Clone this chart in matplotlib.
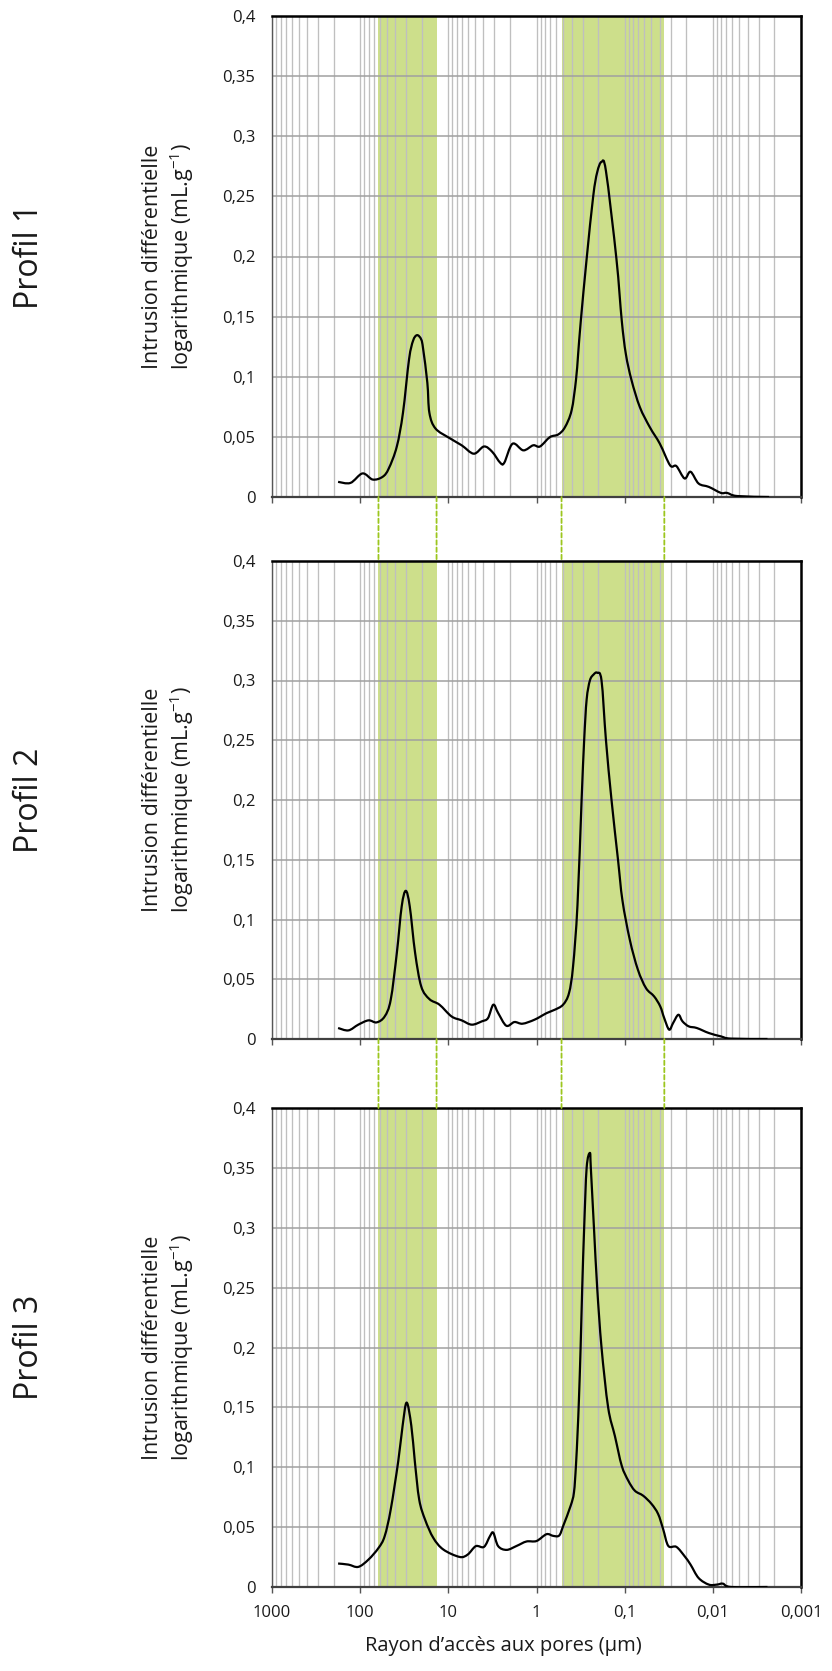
import numpy as np
import matplotlib.pyplot as plt
from matplotlib.ticker import LogLocator, NullFormatter
from matplotlib.patches import ConnectionPatch, PathPatch
from matplotlib.path import Path

plt.rcParams['font.family'] = ['Open Sans', 'DejaVu Sans']
plt.rcParams['mathtext.default'] = 'regular'

# pore radius (µm) and log differential intrusion (mL/g) for each profile
r1 = [178, 129, 94, 72, 55.6, 47.4, 38.4, 32.7, 27.9, 25.1, 22.6, 20.3, 19.3, 17.3, 16.4, 14.0,
      9.7, 7.06, 5.14, 3.94, 3.19, 2.58, 2.32, 1.87, 1.41, 1.09, 0.914, 0.705, 0.567, 0.476,
      0.40, 0.357, 0.337, 0.314, 0.27, 0.2275, 0.205, 0.183, 0.163, 0.124, 0.108, 0.097,
      0.0835, 0.0673, 0.0518, 0.0399, 0.0305, 0.0259, 0.0209, 0.0179, 0.0145, 0.0111, 0.0081,
      0.0069, 0.0053, 0.0023]
v1 = [0.0126, 0.0117, 0.0196, 0.0145, 0.0168, 0.0237, 0.042, 0.070, 0.1145, 0.130, 0.1346, 0.131,
      0.123, 0.095, 0.070, 0.057, 0.049, 0.043, 0.036, 0.042, 0.0377, 0.0285, 0.0285, 0.0443,
      0.0388, 0.043, 0.042, 0.0498, 0.052, 0.058, 0.072, 0.097, 0.119, 0.147, 0.198, 0.250,
      0.270, 0.2787, 0.271, 0.198, 0.147, 0.119, 0.097, 0.0748, 0.058, 0.0443, 0.0263,
      0.0257, 0.0154, 0.021, 0.0112, 0.0084, 0.0034, 0.0034, 0.0008, 0.0]

r2 = [178, 136, 105, 80.5, 65.1, 52.7, 45.0, 38.4, 33.8, 30.4, 27.4, 23.8, 20.3, 16.4, 12.6,
      9.2, 7.06, 5.42, 4.16, 3.55, 3.09, 2.72, 2.20, 1.78, 1.44, 1.05, 0.766, 0.62, 0.50,
      0.428, 0.385, 0.343, 0.308, 0.288, 0.27, 0.248, 0.225, 0.205, 0.183, 0.163,
      0.141, 0.119, 0.106, 0.0874, 0.0708, 0.0573, 0.0464, 0.0395, 0.0356, 0.0313, 0.0282,
      0.0246, 0.0221, 0.0188, 0.0152, 0.0111, 0.0081, 0.0062, 0.0024]
v2 = [0.0092, 0.0072, 0.012, 0.0156, 0.0139, 0.0189, 0.0329, 0.0719, 0.111, 0.124, 0.111,
      0.0719, 0.044, 0.0334, 0.0287, 0.0189, 0.0156, 0.012, 0.0148, 0.0175, 0.0287, 0.0217,
      0.0111, 0.0142, 0.0128, 0.0162, 0.0217, 0.0245, 0.0287, 0.0384, 0.0607, 0.112,
      0.2, 0.25, 0.284, 0.30, 0.305, 0.3065, 0.30, 0.25, 0.2, 0.15, 0.116, 0.083, 0.058,
      0.0426, 0.0357, 0.0273, 0.0175, 0.0078, 0.0134, 0.0203, 0.0148, 0.0106, 0.0092, 0.005,
      0.0022, 0.0003, 0.0]

r3 = [178, 136, 105, 80.5, 61.8, 52.7, 45.0, 37, 33.0, 29.7, 26.3, 24, 21.4, 18.3, 14.8, 11.4,
      7.45, 6.03, 4.88, 3.94, 3.37, 3.09, 2.72, 2.18, 1.68, 1.30, 1.0, 0.77, 0.647, 0.553,
      0.498, 0.41, 0.376, 0.357, 0.342, 0.330, 0.316, 0.303, 0.288, 0.270, 0.248, 0.242,
      0.223, 0.205, 0.183, 0.154, 0.129, 0.108, 0.091, 0.0766, 0.0616, 0.0495, 0.0417,
      0.0366, 0.032, 0.0259, 0.0209, 0.0179, 0.0145, 0.0111, 0.009, 0.0077, 0.0062, 0.0024]
v3 = [0.0196, 0.0187, 0.0168, 0.0229, 0.0327, 0.0425, 0.0648, 0.105, 0.1347, 0.154, 0.1347,
      0.105, 0.073, 0.056, 0.041, 0.0313, 0.0251, 0.0271, 0.0341, 0.0335, 0.0425, 0.0453,
      0.0341, 0.031, 0.0343, 0.038, 0.0384, 0.0441, 0.0427, 0.043, 0.051, 0.0678, 0.079,
      0.1013, 0.129, 0.157, 0.2, 0.25, 0.3, 0.35, 0.3625, 0.35, 0.3, 0.25, 0.2, 0.15, 0.126,
      0.1013, 0.0888, 0.0804, 0.0762, 0.0693, 0.0609, 0.0483, 0.0343, 0.0335, 0.0257, 0.0187,
      0.0075, 0.002, 0.002, 0.0028, 0.0, 0.0]

profiles = ["Profil 1", "Profil 2", "Profil 3"]
radii = [r1, r2, r3]
values = [v1, v2, v3]

band_macro = [62, 13.6]
band_micro = [0.52, 0.0355]

y_ticks = [0, 0.05, 0.1, 0.15, 0.2, 0.25, 0.3, 0.35, 0.4]
y_labels = ["0", "0,05", "0,1", "0,15", "0,2", "0,25", "0,3", "0,35", "0,4"]
x_ticks = [1000, 100, 10, 1, 0.1, 0.01, 0.001]
x_labels = ["1000", "100", "10", "1", "0,1", "0,01", "0,001"]

ylabel = "Intrusion différentielle\nlogarithmique (mL.g$^{-1}$)"
xlabel = "Rayon d’accès aux pores (µm)"


def smooth_path(r, v):
    # Excel-style smoothed line: cubic Bezier through the points (in log-x space)
    lx = np.log10(r)
    pts = np.column_stack([lx, v])
    p = np.vstack([pts[0], pts, pts[-1]])
    verts = [pts[0]]
    codes = [Path.MOVETO]
    for i in range(1, len(p) - 2):
        c1 = p[i] + (p[i + 1] - p[i - 1]) / 6
        c2 = p[i + 1] - (p[i + 2] - p[i]) / 6
        verts += [c1, c2, p[i + 1]]
        codes += [Path.CURVE4] * 3
    verts = np.array(verts)
    verts[:, 0] = 10 ** verts[:, 0]
    return Path(verts, codes)


W, H = 832, 1671
fig = plt.figure(figsize=(W / 100, H / 100), dpi=100)
boxes = [(16, 497), (561, 1039), (1108, 1587)]
green = "#cddf8b"

axes = []
for i, (top, bot) in enumerate(boxes):
    ax = fig.add_axes([272 / W, 1 - bot / H, 529 / W, (bot - top) / H])
    ax.set_xscale("log")
    ax.set_xlim(1000, 0.001)
    ax.set_ylim(0, 0.4)
    ax.axvspan(band_macro[0], band_macro[1], color=green, lw=0, zorder=1)
    ax.axvspan(band_micro[0], band_micro[1], color=green, lw=0, zorder=1)
    ax.add_patch(PathPatch(smooth_path(radii[i], values[i]), fill=False,
                           edgecolor="black", lw=1.6, joinstyle="round", zorder=3))

    ax.set_yticks(y_ticks, y_labels)
    ax.set_xticks(x_ticks, x_labels)
    ax.xaxis.set_minor_locator(LogLocator(base=10, subs=np.arange(2, 10), numticks=100))
    ax.xaxis.set_minor_formatter(NullFormatter())
    ax.grid(True, which="major", axis="y", color="#a0a0a0", lw=1.1)
    ax.grid(True, which="both", axis="x", color="#bfbfbf", lw=0.95)

    ax.tick_params(axis="y", length=0, pad=12, labelsize=12, labelcolor="#1a1a1a")
    ax.tick_params(axis="x", which="major", length=4, width=1, color="#555555",
                   pad=9, labelsize=12, labelcolor="#1a1a1a")
    ax.tick_params(axis="x", which="minor", length=0)
    if i < 2:
        ax.tick_params(axis="x", labelbottom=False)

    ax.spines["top"].set_linewidth(1.8)
    ax.spines["right"].set_linewidth(1.8)
    ax.spines["top"].set_color("black")
    ax.spines["right"].set_color("black")
    ax.spines["left"].set_color("#555555")
    ax.spines["left"].set_linewidth(1.0)
    ax.spines["bottom"].set_color("#404040")
    ax.spines["bottom"].set_linewidth(1.6)

    ymid = 1 - (top + bot) / 2 / H
    fig.text(169 / W, ymid, ylabel, rotation=90, ha="center", va="center",
             ma="center", fontsize=15.5, linespacing=1.25, color="#1a1a1a")
    fig.text(30 / W, ymid, profiles[i], rotation=90, ha="center", va="center",
             fontsize=23, color="#1a1a1a")
    axes.append(ax)

# dashed guides linking the bands between panels
for a_top, a_bot in [(axes[0], axes[1]), (axes[1], axes[2])]:
    for x in band_macro + band_micro:
        con = ConnectionPatch(xyA=(x, 0), coordsA=a_top.transData,
                              xyB=(x, 0.4), coordsB=a_bot.transData,
                              color="#9cc61e", lw=1.3, ls=(0, (2.4, 1.6)))
        fig.add_artist(con)

fig.text(503 / W, 1 - 1646 / H, xlabel, ha="center", va="center",
         fontsize=14.5, color="#1a1a1a")

fig.savefig("out.png", dpi=100)
